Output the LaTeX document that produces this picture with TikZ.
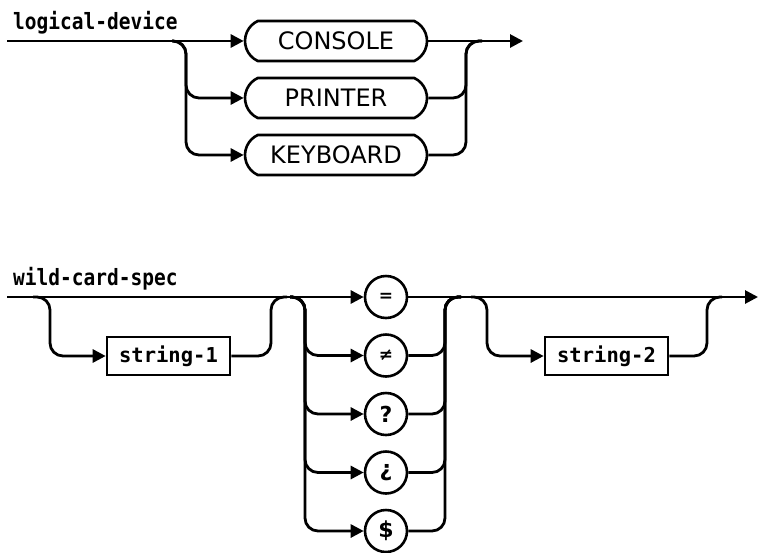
\documentclass[tikz,border=0pt]{standalone}
\usepackage{fontspec}
\newfontfamily\monofnt{DejaVu Sans Mono}
\newfontfamily\sansfnt{DejaVu Sans}
\usetikzlibrary{arrows.meta,shapes.misc}
\tikzset{
  rail/.style={line width=2.8pt, line join=round, rounded corners=13pt},
  into/.style={rail, -{Triangle[length=13pt,width=13pt]}},
  keyword/.style={draw, line width=2.6pt, rounded rectangle, rounded rectangle arc length=130,
    minimum width=182pt, minimum height=40pt, inner sep=0pt, font=\sansfnt\fontsize{24}{26}\selectfont},
  nonterm/.style={draw, line width=2.6pt, rectangle, minimum width=123pt, minimum height=38pt,
    inner sep=0pt, font=\monofnt\bfseries\fontsize{20.5}{22}\selectfont},
  symb/.style={draw, line width=2.6pt, circle, minimum size=42pt, inner sep=0pt,
    font=\sansfnt\bfseries\fontsize{22}{24}\selectfont},
  title/.style={anchor=base west, inner sep=0pt, font=\monofnt\bfseries\fontsize{19.5}{22}\selectfont}
}
\begin{document}
\begin{tikzpicture}[x=1pt,y=-1pt]
\useasboundingbox (0,0) rectangle (759,552);

% ---------------- logical-device ----------------
\node[title] (ldlabel) at (13,29) {\scalebox{1}[1.15]{logical-device}};
\coordinate (ldstart) at (7,41);
\coordinate (ldsplit) at (172,41);
\coordinate (ldjoin) at (482,41);
\coordinate (ldend) at (523,41);

\node[keyword] (console)  at (336,41)  {CONSOLE};
\node[keyword] (printer)  at (336,98)  {PRINTER};
\node[keyword] (keyboard) at (336,155) {KEYBOARD};

\draw[into] (ldstart) -- (console.west);
\draw[into] (ldsplit) -- (186,41) -- (186,98) -- (printer.west);
\draw[into] (ldsplit) -- (186,41) -- (186,155) -- (keyboard.west);

\draw[into] (console.east) -- (ldend);
\draw[rail] (printer.east) -- (466,98) -- (466,41) -- (ldjoin);
\draw[rail] (keyboard.east) -- (466,155) -- (466,41) -- (ldjoin);

% ---------------- wild-card-spec ----------------
\node[title] (wclabel) at (13,285) {\scalebox{1}[1.15]{wild-card-spec}};
\coordinate (wcstart) at (7,297);
\coordinate (wcend) at (758,297);

\node[nonterm] (stringA) at (168.5,356) {string-1};
\node[nonterm] (stringB) at (606.5,356) {string-2};

\node[symb] (eq)   at (386,297)   {\fontsize{17}{18}\selectfont =};
\node[symb] (neq)  at (386,355.5) {\fontsize{17}{18}\selectfont ≠};
\node[symb] (qm)   at (386,414)   {?};
\node[symb] (iqm)  at (386,472.5) {¿};
\node[symb] (dol)  at (386,531)   {\$};

% main line
\draw[into] (wcstart) -- (eq.west);
\draw[into] (eq.east) -- (wcend);

% optional string-1
\draw[into] (33,297) -- (50,297) -- (50,356) -- (stringA.west);
\draw[rail] (stringA.east) -- (271,356) -- (271,297) -- (287,297);

% choice of wild card character
\foreach \c in {neq,qm,iqm,dol}{
  \draw[into] (290,297) -- (305,297) -- (305,0 |- \c) -- (\c.west);
  \draw[rail] (\c.east) -- (445,0 |- \c) -- (445,297) -- (461,297);
}

% optional string-2
\draw[into] (471,297) -- (487,297) -- (487,356) -- (stringB.west);
\draw[rail] (stringB.east) -- (707,356) -- (707,297) -- (722,297);
\end{tikzpicture}
\end{document}
